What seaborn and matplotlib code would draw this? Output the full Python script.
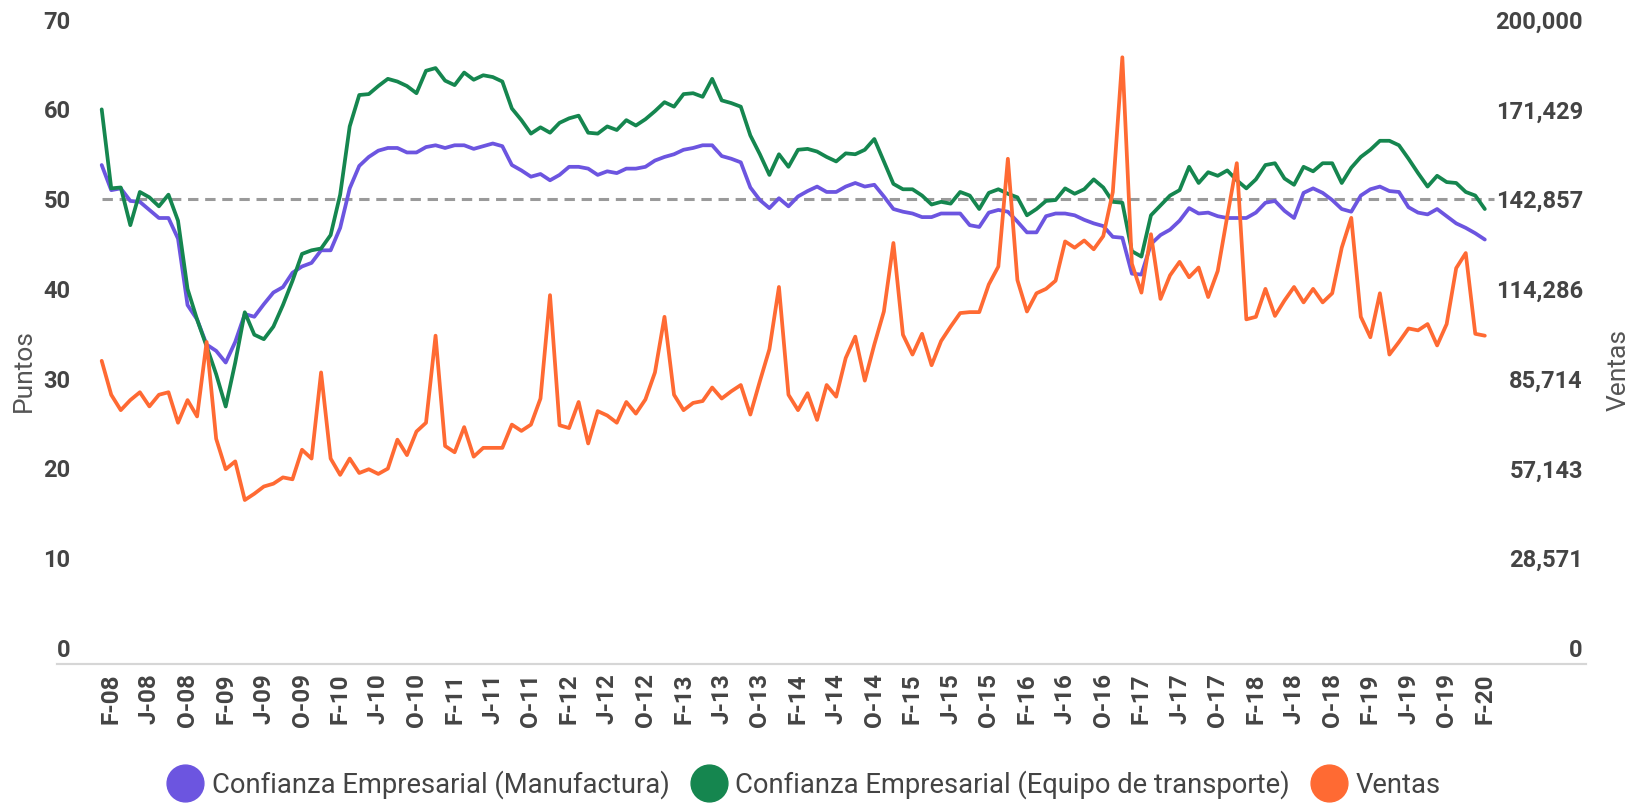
import numpy as np
import pandas as pd
import matplotlib
matplotlib.use("Agg")
import matplotlib.pyplot as plt
import seaborn as sns
from matplotlib.lines import Line2D

# ---------------- data ----------------
fechas = pd.date_range("2008-01-01", periods=146, freq="MS")

manufactura = [
    53.8, 51.0, 51.2, 49.8, 49.7, 48.8, 47.9, 47.9, 45.6, 38.2, 36.6, 33.8,
    33.1, 31.8, 34.1, 37.2, 36.9, 38.3, 39.6, 40.2, 41.8, 42.5, 42.9, 44.3,
    44.3, 46.8, 51.2, 53.7, 54.7, 55.4, 55.7, 55.7, 55.2, 55.2, 55.8, 56.0,
    55.7, 56.0, 56.0, 55.6, 55.9, 56.2, 55.9, 53.8, 53.2, 52.5, 52.8, 52.1,
    52.7, 53.6, 53.6, 53.4, 52.7, 53.1, 52.9, 53.4, 53.4, 53.6, 54.3, 54.7,
    55.0, 55.5, 55.7, 56.0, 56.0, 54.8, 54.5, 54.1, 51.3, 49.9, 49.0, 50.1,
    49.2, 50.3, 50.9, 51.4, 50.8, 50.8, 51.4, 51.8, 51.4, 51.6, 50.3, 48.9,
    48.6, 48.4, 48.0, 48.0, 48.4, 48.4, 48.4, 47.1, 46.9, 48.5, 48.8, 48.6,
    47.5, 46.3, 46.3, 48.1, 48.4, 48.4, 48.2, 47.7, 47.3, 47.0, 45.8, 45.7,
    41.7, 41.6, 45.0, 46.0, 46.6, 47.6, 49.0, 48.4, 48.5, 48.1, 47.9, 47.9,
    47.9, 48.5, 49.6, 49.8, 48.7, 47.9, 50.7, 51.2, 50.7, 49.9, 48.9, 48.6,
    50.4, 51.1, 51.4, 50.9, 50.8, 49.1, 48.5, 48.3, 48.9, 48.1, 47.3, 46.8,
    46.2, 45.5,
]

transporte = [
    60.0, 51.2, 51.3, 47.1, 50.8, 50.2, 49.2, 50.5, 47.6, 40.0, 36.6, 33.6,
    30.5, 26.9, 31.8, 37.4, 34.9, 34.4, 35.8, 38.2, 40.9, 43.9, 44.3, 44.5,
    46.0, 50.5, 58.1, 61.6, 61.7, 62.6, 63.4, 63.1, 62.6, 61.8, 64.3, 64.6,
    63.2, 62.7, 64.1, 63.3, 63.8, 63.6, 63.1, 60.1, 58.8, 57.3, 58.0, 57.4,
    58.5, 59.0, 59.3, 57.4, 57.3, 58.1, 57.7, 58.8, 58.2, 58.9, 59.8, 60.8,
    60.3, 61.7, 61.8, 61.4, 63.4, 61.0, 60.7, 60.3, 57.1, 55.0, 52.7, 55.0,
    53.6, 55.5, 55.6, 55.3, 54.7, 54.2, 55.1, 55.0, 55.5, 56.7, 54.2, 51.7,
    51.1, 51.1, 50.4, 49.4, 49.7, 49.5, 50.8, 50.4, 48.9, 50.7, 51.1, 50.6,
    50.2, 48.2, 48.9, 49.8, 49.9, 51.2, 50.6, 51.1, 52.2, 51.3, 49.7, 49.6,
    44.2, 43.6, 48.2, 49.3, 50.4, 51.0, 53.6, 51.8, 53.0, 52.6, 53.2, 52.1,
    51.2, 52.2, 53.8, 54.0, 52.3, 51.6, 53.6, 53.1, 54.0, 54.0, 51.8, 53.5,
    54.7, 55.5, 56.5, 56.5, 56.0, 54.5, 52.9, 51.4, 52.6, 51.9, 51.8, 50.8,
    50.4, 48.9,
]

ventas = [
    91400, 80600, 75700, 78900, 81400, 76900, 80600, 81400, 71700, 78900, 73700, 97400,
    66600, 56900, 59400, 47100, 49100, 51400, 52300, 54300, 53700, 63100, 60300, 87700,
    60300, 55100, 60300, 55700, 56900, 55400, 57100, 66300, 61400, 68900, 71700, 99400,
    64300, 62300, 70300, 60900, 63700, 63700, 63700, 71100, 69100, 71100, 79400, 112300,
    70900, 70000, 78300, 65100, 75400, 74000, 71700, 78300, 74600, 79100, 87700, 105400,
    80600, 75700, 78000, 78600, 82900, 79400, 81700, 83700, 74300, 84900, 95100, 114900,
    80600, 75700, 81100, 72600, 83700, 80000, 92300, 99100, 85100, 96600, 107100, 128900,
    99700, 93400, 100000, 90000, 97700, 102300, 106600, 106900, 106900, 115700, 121400, 155700,
    117100, 107100, 112900, 114300, 116900, 129400, 127400, 129700, 126900, 131100, 145100, 188000,
    122300, 113100, 131700, 111100, 118600, 122900, 118000, 121100, 111700, 120000, 137400, 154300,
    104600, 105400, 114300, 105700, 110600, 114900, 110000, 114300, 110000, 112900, 127400, 136900,
    105400, 98900, 112900, 93400, 97400, 101700, 101100, 103100, 96300, 103100, 120900, 125700,
    100000, 99400,
]

UMBRAL = 50
ticks_puntos = [0, 10, 20, 30, 40, 50, 60, 70]
ticks_ventas = [0, 28571, 57143, 85714, 114286, 142857, 171429, 200000]
MESES = {2: "F", 6: "J", 10: "O"}

nombre_m = "Confianza Empresarial (Manufactura)"
nombre_t = "Confianza Empresarial (Equipo de transporte)"
nombre_v = "Ventas"
colores = {nombre_m: "#6c55e0", nombre_t: "#15864f", nombre_v: "#ff6a33"}

# ---------------- style ----------------
sns.set_theme(style="white")
plt.rcParams["font.family"] = ["Roboto", "DejaVu Sans"]
TXT = "#444444"

pos = np.arange(len(fechas))
df = pd.DataFrame({"pos": pos, nombre_m: manufactura, nombre_t: transporte})
largo = df.melt(id_vars="pos", var_name="serie", value_name="valor")
dv = pd.DataFrame({"pos": pos, "ventas": ventas})

fig = plt.figure(figsize=(16.49, 8.05), dpi=100)
ax = fig.add_axes([0.03475, 0.17516, 0.9270, 0.8005])

ax.hlines(UMBRAL, pos[0], pos[-1] + 1, colors="#9a9a9a", linestyles=(0, (3.4, 2.2)),
          linewidth=2.2, zorder=1)
sns.lineplot(data=largo, x="pos", y="valor", hue="serie",
             hue_order=[nombre_m, nombre_t], palette=colores,
             linewidth=2.7, legend=False, ax=ax, zorder=2,
             solid_joinstyle="round", solid_capstyle="round")

ax2 = ax.twinx()
sns.lineplot(data=dv, x="pos", y="ventas", color=colores[nombre_v], linewidth=2.7,
             ax=ax2, zorder=3, solid_joinstyle="round", solid_capstyle="round")

# limits
ax.set_xlim(-4.654, 155.6)
ax.set_ylim(-1.78, 70)
ax2.set_ylim(-1.78 * 200000 / 70, 200000)

# x ticks
xt = [p for p, f in zip(pos, fechas) if f.month in MESES]
xl = [f"{MESES[f.month]}-{f.year % 100:02d}" for f in fechas if f.month in MESES]
ax.set_xticks(xt, labels=xl, rotation=90, fontweight="bold", fontsize=17.5)
ax.tick_params(axis="x", length=0, pad=6.5, labelcolor=TXT)
ax.set_xlabel("")

# left y
ax.set_yticks(ticks_puntos, labels=[str(t) for t in ticks_puntos], fontweight="bold", fontsize=17)
ax.tick_params(axis="y", length=0, pad=-9.6, labelcolor=TXT)
ax.set_ylabel("Puntos", fontsize=19, color="#555555")
ax.yaxis.set_label_coords(-0.0139, 0.456)

# right y
ax2.set_yticks(ticks_ventas, labels=[f"{t:,}" for t in ticks_ventas], fontweight="bold",
               fontsize=17, ha="right")
ax2.tick_params(axis="y", length=0, pad=-2.2, labelcolor=TXT)
ax2.set_ylabel("Ventas", fontsize=19, color="#555555", rotation=90)
ax2.yaxis.set_label_coords(1.0137, 0.456)
ax2.set_xlabel("")

for a in (ax, ax2):
    a.grid(False)
    for s in ("left", "right", "top"):
        a.spines[s].set_visible(False)
    a.spines["bottom"].set_color("#d6d6d6")
    a.spines["bottom"].set_linewidth(1.5)
    a.set_facecolor("none")

# legend
handles = [Line2D([], [], marker="o", linestyle="none", markersize=26.5,
                  markerfacecolor=colores[n], markeredgecolor=colores[n])
           for n in (nombre_m, nombre_t, nombre_v)]
fig.legend(handles, [nombre_m, nombre_t, nombre_v], loc="center",
           bbox_to_anchor=(0.4874, 1 - 785 / 805), ncol=3, frameon=False,
           fontsize=19.7, labelcolor=TXT, handlelength=1.35, handletextpad=0.3,
           columnspacing=0.75, borderaxespad=0)

fig.savefig("out.png", dpi=100)
